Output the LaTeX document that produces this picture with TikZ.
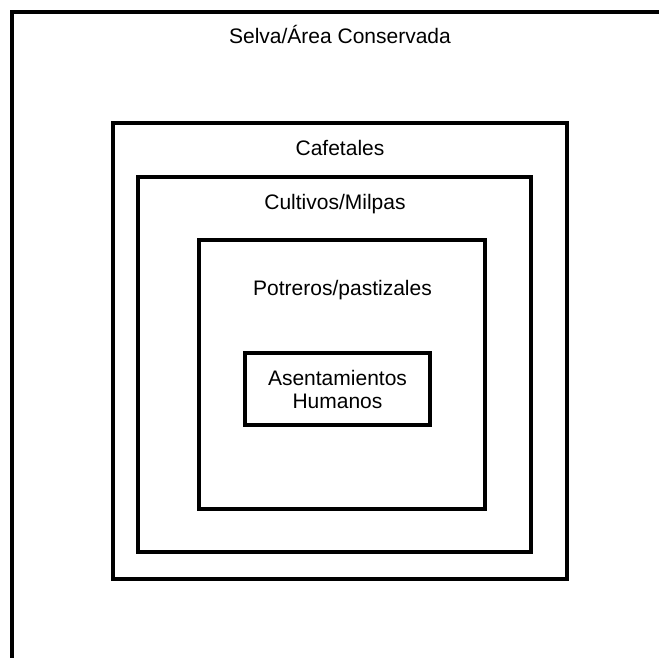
\documentclass[tikz,border=0pt]{standalone}
\usepackage{fontspec}
\setmainfont{Liberation Sans}
\begin{document}
\begin{tikzpicture}[x=1pt,y=-1pt,
  zone/.style={draw=black,line width=3.6pt,fill=none},
  lbl/.style={font=\fontsize{21}{24}\selectfont,anchor=base,inner sep=0pt}]
\useasboundingbox (0,0) rectangle (659,657);
\clip (0,0) rectangle (659,657);
% outer area (extends beyond the page)
\coordinate (selvaTL) at (11.5,11.5);
\coordinate (selvaBR) at (720,720);
\draw[line width=4pt] (selvaTL) rectangle (selvaBR);
\node[zone,rectangle] (cafe) at ({(113+567)/2},{(123+579)/2}) [minimum width=454pt,minimum height=456pt] {};
\node[zone,rectangle] (cult) at ({(138+531)/2},{(177+552)/2}) [minimum width=393pt,minimum height=375pt] {};
\node[zone,rectangle] (potr) at ({(199+485)/2},{(240+509)/2}) [minimum width=286pt,minimum height=269pt] {};
\node[zone,rectangle] (asen) at ({(245+430)/2},{(353+425)/2}) [minimum width=185pt,minimum height=72pt] {};
% labels
\node[lbl] (tselva) at (340,43) {Selva/Área Conservada};
\node[lbl] (tcafe) at (340,155) {Cafetales};
\node[lbl] (tcult) at (335,209) {Cultivos/Milpas};
\node[lbl] (tpotr) at (342.5,295) {Potreros/pastizales};
\node[lbl] (tasen1) at (337.5,385) {Asentamientos};
\node[lbl] (tasen2) at (337.5,408) {Humanos};
\end{tikzpicture}
\end{document}
